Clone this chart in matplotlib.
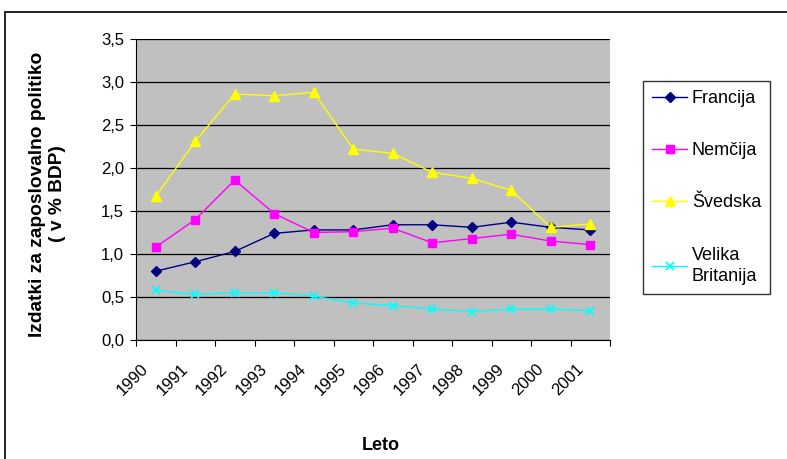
import matplotlib.pyplot as plt
import numpy as np
from matplotlib.patches import Rectangle
from matplotlib.transforms import ScaledTranslation

plt.rcParams['font.family'] = ['Liberation Sans', 'DejaVu Sans']

years = ["1990", "1991", "1992", "1993", "1994", "1995", "1996",
         "1997", "1998", "1999", "2000", "2001"]
francija = [0.80, 0.91, 1.03, 1.24, 1.28, 1.28, 1.34, 1.34, 1.31, 1.37, 1.31, 1.28]
nemcija = [1.08, 1.40, 1.86, 1.47, 1.25, 1.26, 1.30, 1.13, 1.18, 1.23, 1.15, 1.11]
svedska = [1.67, 2.31, 2.86, 2.84, 2.88, 2.22, 2.17, 1.95, 1.88, 1.74, 1.31, 1.35]
britanija = [0.58, 0.53, 0.55, 0.55, 0.51, 0.43, 0.40, 0.36, 0.33, 0.36, 0.36, 0.34]

W, H = 787, 459
fig = plt.figure(figsize=(W / 100, H / 100), dpi=100)
ax = fig.add_axes([136 / W, 1 - 340 / H, (610 - 136) / W, (340 - 39) / H])
ax.set_facecolor("#c0c0c0")

x = np.arange(len(years))
ax.plot(x, francija, color="#000080", marker="D", ms=5, lw=1.0, label="Francija")
ax.plot(x, nemcija, color="#ff00ff", marker="s", ms=6, lw=1.0, label="Nemčija")
ax.plot(x, svedska, color="#ffff00", marker="^", ms=7, lw=1.0, label="Švedska")
ax.plot(x, britanija, color="#00ffff", marker="x", ms=6, mew=1.3, lw=1.0,
        label="Velika\nBritanija")

ax.set_xlim(-0.5, len(years) - 0.5)
ax.set_ylim(0, 3.5)
yt = np.arange(0, 3.51, 0.5)
ax.set_yticks(yt)
ax.set_yticklabels([f"{v:.1f}".replace(".", ",") for v in yt], fontsize=12)
ax.yaxis.grid(True, color="black", lw=0.9)
ax.set_axisbelow(True)

# category labels sit at the left boundary of each category, like Excel
ax.set_xticks(np.arange(-0.5, len(years), 1.0))
ax.set_xticklabels(years + [""], rotation=45, ha="right", va="top",
                   rotation_mode="anchor", fontsize=12)
ax.tick_params(axis="x", length=4.5, pad=11, direction="out")
ax.tick_params(axis="y", length=4.5, pad=4, direction="out")
shift = ScaledTranslation(5 / 100, 0, fig.dpi_scale_trans)
for lab in ax.get_xticklabels():
    lab.set_transform(lab.get_transform() + shift)

for side in ["top", "right"]:
    ax.spines[side].set_visible(False)

fig.text(381 / W, 1 - 446 / H, "Leto", fontsize=13, fontweight="bold",
         ha="center", va="center")
fig.text(47.5 / W, 1 - 194 / H, "Izdatki za zaposlovalno politiko\n( v % BDP)",
         fontsize=13.8, fontweight="bold", rotation=90, ha="center",
         va="center", multialignment="center", linespacing=1.2)

leg = fig.legend(loc="upper left", bbox_to_anchor=(643 / W, 1 - 81 / H),
                 frameon=True, fancybox=False, edgecolor="black",
                 fontsize=13, labelspacing=1.95, handlelength=1.95,
                 borderpad=0.5, handletextpad=0.25, borderaxespad=0)
leg.get_frame().set_linewidth(1.0)
leg.get_texts()[3].set_linespacing(1.35)

fig.patches.append(Rectangle((5 / W, -0.1), 1.1, 1 - 12 / H + 0.1,
                             transform=fig.transFigure, fill=False,
                             edgecolor="black", lw=1.2))

fig.savefig("out.png", dpi=100)
